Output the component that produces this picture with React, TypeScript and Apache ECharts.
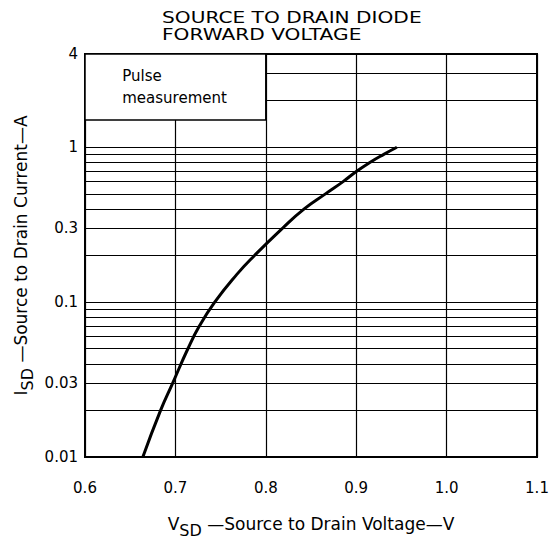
import React, { useEffect, useRef } from "react";
import * as echarts from "echarts";

const voltage = [0.664, 0.6836, 0.697, 0.7138, 0.7265, 0.7435, 0.7675, 0.7875, 0.8185, 0.8425, 0.866, 0.8855, 0.9005, 0.9155, 0.9305, 0.945];
const current = [0.01, 0.02, 0.03, 0.05, 0.07, 0.1, 0.15, 0.2, 0.3, 0.4, 0.5, 0.6, 0.7, 0.8, 0.9, 1.0];

const gridValues = [
  0.01, 0.02, 0.03, 0.04, 0.05, 0.06, 0.07, 0.08, 0.09,
  0.1, 0.2, 0.3, 0.4, 0.5, 0.6, 0.7, 0.8, 0.9,
  1, 2, 3, 4,
];
const yTickLabels = [0.01, 0.03, 0.1, 0.3, 1, 4];

const xMin = 0.6;
const xMax = 1.1;
const boxX = [0.6, 0.8];
const boxY = [1.5, 4];
const boxText = "Pulse\nmeasurement";

const titleLines = ["SOURCE TO DRAIN DIODE", "FORWARD VOLTAGE"];

const FONT = "DejaVu Sans";

const nameRich = {
  m: { fontSize: 17, fontFamily: FONT, color: "#000", lineHeight: 17, verticalAlign: "top" },
  s: { fontSize: 16, fontFamily: FONT, color: "#000", lineHeight: 23, verticalAlign: "bottom" },
};

export default function App() {
  const ref = useRef<HTMLDivElement>(null);
  useEffect(() => {
    if (!ref.current) return;
    const chart = echarts.init(ref.current, undefined, { renderer: "svg" });
    chart.setOption({
      animation: false,
      backgroundColor: "#fff",
      textStyle: { fontFamily: FONT, color: "#000" },
      graphic: titleLines.map((t, i) => ({
        type: "text",
        x: 162,
        y: 9 + i * 17,
        scaleX: 1.26,
        style: { text: t, font: `16px "${FONT}"`, fill: "#000" },
      })),
      grid: {
        left: 85,
        right: 15,
        top: 54,
        bottom: 83,
        show: true,
        borderColor: "#000",
        borderWidth: 2,
        backgroundColor: "#fff",
      },
      xAxis: {
        type: "value",
        min: xMin,
        max: xMax,
        interval: 0.1,
        axisLine: { show: false },
        axisTick: { show: false },
        splitLine: { show: true, lineStyle: { color: "#000", width: 1.2 } },
        axisLabel: {
          color: "#000",
          fontSize: 15,
          fontFamily: FONT,
          margin: 23,
          formatter: (v: number) => v.toFixed(1),
        },
        name: "{m|V}{s|SD}{m| \u2014Source to Drain Voltage\u2014V}",
        nameLocation: "middle",
        nameGap: 58,
        nameTextStyle: { rich: nameRich },
      },
      yAxis: {
        type: "log",
        logBase: 10,
        min: 0.01,
        max: 4,
        axisLine: { show: false },
        axisTick: { show: false },
        axisLabel: { show: false },
        splitLine: { show: false },
        name: "{m|I}{s|SD}{m| \u2014Source to Drain Current\u2014A}",
        nameLocation: "middle",
        nameRotate: 90,
        nameGap: 50,
        nameTextStyle: { rich: nameRich },
      },
      series: [
        {
          type: "line",
          z: 1,
          data: [],
          silent: true,
          markLine: {
            silent: true,
            symbol: ["none", "none"],
            lineStyle: { color: "#000", width: 1.2, type: "solid" },
            label: { show: false },
            emphasis: { disabled: true },
            data: gridValues.map((v) => [
              { coord: [v > boxY[0] ? boxX[1] : xMin, v] },
              { coord: [xMax, v] },
            ]),
          },
        },
        {
          type: "line",
          z: 1,
          data: [],
          silent: true,
          markLine: {
            silent: true,
            symbol: ["none", "none"],
            lineStyle: { color: "rgba(0,0,0,0)", width: 1, type: "solid" },
            emphasis: { disabled: true },
            label: {
              show: true,
              position: "start",
              distance: 7,
              color: "#000",
              opacity: 1,
              fontSize: 15,
              fontFamily: FONT,
              formatter: (p: any) => String(p.value),
            },
            data: yTickLabels.map((v) => ({ yAxis: v })),
          },
        },
        {
          type: "line",
          z: 2,
          data: [],
          silent: true,
          markArea: {
            silent: true,
            itemStyle: { color: "#fff", borderColor: "#000", borderWidth: 1.5 },
            label: {
              show: true,
              position: [38, 12],
              formatter: boxText,
              color: "#000",
              fontSize: 15,
              fontFamily: FONT,
              lineHeight: 22,
              align: "left",
              verticalAlign: "top",
            },
            data: [[{ xAxis: boxX[0], yAxis: boxY[1] }, { xAxis: boxX[1], yAxis: boxY[0] }]],
          },
        },
        {
          type: "line",
          z: 3,
          smooth: 0.5,
          showSymbol: false,
          lineStyle: { color: "#000", width: 3 },
          data: voltage.map((v, i) => [v, current[i]]),
        },
      ],
    });
    return () => chart.dispose();
  }, []);
  return <div ref={ref} style={{ width: 552, height: 543, position: "absolute", left: 0, top: 0 }} />;
}
